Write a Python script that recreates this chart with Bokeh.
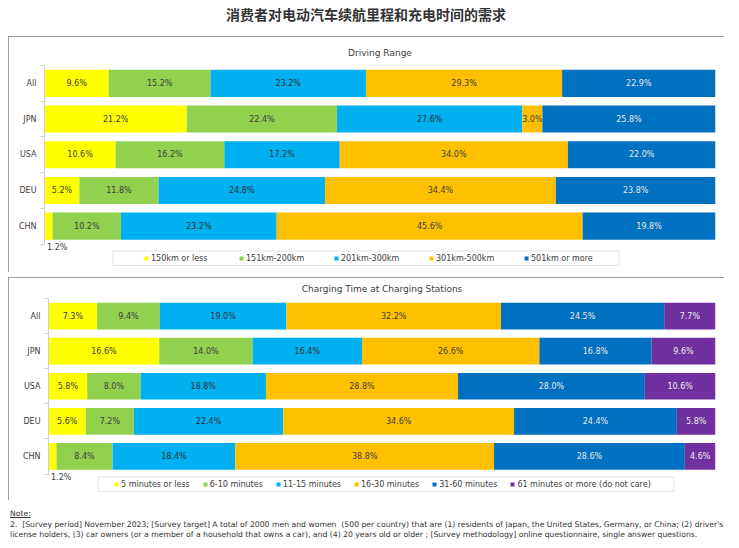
from bokeh.plotting import figure
from bokeh.models import (ColumnDataSource, FixedTicker, Legend, LegendItem,
                          BoxAnnotation, Label, Div, Spacer)
from bokeh.layouts import column
from bokeh.embed import file_html
from bokeh.resources import INLINE
from bokeh.core.properties import value

# ---------------- data ----------------
countries = ["All", "JPN", "USA", "DEU", "CHN"]

range_labels = ["150km or less", "151km-200km", "201km-300km", "301km-500km", "501km or more"]
range_all = [9.6, 15.2, 23.2, 29.3, 22.9]
range_jpn = [21.2, 22.4, 27.6, 3.0, 25.8]
range_usa = [10.6, 16.2, 17.2, 34.0, 22.0]
range_deu = [5.2, 11.8, 24.8, 34.4, 23.8]
range_chn = [1.2, 10.2, 23.2, 45.6, 19.8]

time_labels = ["5 minutes or less", "6-10 minutes", "11-15 minutes", "16-30 minutes",
               "31-60 minutes", "61 minutes or more (do not care)"]
time_all = [7.3, 9.4, 19.0, 32.2, 24.5, 7.7]
time_jpn = [16.6, 14.0, 16.4, 26.6, 16.8, 9.6]
time_usa = [5.8, 8.0, 18.8, 28.8, 28.0, 10.6]
time_deu = [5.6, 7.2, 22.4, 34.6, 24.4, 5.8]
time_chn = [1.2, 8.4, 18.4, 38.8, 28.6, 4.6]

main_title = "消费者对电动汽车续航里程和充电时间的需求"
note_head = "Note:"
note_line1 = ("2.  [Survey period] November 2023; [Survey target] A total of 2000 men and women  "
              "(500 per country) that are (1) residents of Japan, the United States, Germany, or China; (2) driver's")
note_line2 = ("license holders, (3) car owners (or a member of a household that owns a car), and (4) 20 years "
              "old or older ; [Survey methodology] online questionnaire, single answer questions.")

# ---------------- style ----------------
colors = ["#FFFF00", "#92D050", "#00B0F0", "#FFC000", "#0070C0", "#7030A0"]
text_colors = ["#404040", "#404040", "#333333", "#404040", "#e8e8e8", "#eeeeee"]
FONT = "DejaVu Sans"
NAN = float("nan")


def build_panel(title, rows, labels, height, bl, br, bt, bb, px_per_row, title_standoff,
                leg_vx, leg_vy, leg_spacing, leg_label_width, box):
    n = len(rows)
    frame_h = height - bt - bb
    y_start = n - frame_h / px_per_row
    p = figure(width=716, height=height, x_range=(0, 100), y_range=(y_start, n),
               x_axis_type=None, output_backend="svg", toolbar_location=None,
               min_border_left=bl, min_border_right=br, min_border_top=bt,
               min_border_bottom=bb)
    p.outline_line_color = None
    p.background_fill_color = "white"
    p.border_fill_color = "white"
    p.grid.visible = False
    p.styles = {"outline": "1px solid #7f7f7f", "outline-offset": "-1px"}

    p.title.text = title
    p.title.align = "center"
    p.title.text_font = FONT
    p.title.text_font_size = "9px"
    p.title.text_font_style = "normal"
    p.title.text_color = "#404040"
    p.title.standoff = title_standoff

    ys = [n - 0.5 - i for i in range(n)]
    totals = [sum(r) for r in rows]
    cum = [0.0] * n
    items = []
    below_labels = []
    for j, lab in enumerate(labels):
        vals = [r[j] for r in rows]
        lefts = list(cum)
        rights = [c + v / t * 100.0 for c, v, t in zip(cum, vals, totals)]
        src = ColumnDataSource(dict(y=ys, left=lefts, right=rights))
        p.hbar(y="y", left="left", right="right", height=0.76, fill_color=colors[j],
               line_color=None, source=src)
        tx, ty, tt = [], [], []
        for i in range(n):
            if vals[i] >= 2:
                tx.append((lefts[i] + rights[i]) / 2)
                ty.append(ys[i])
                tt.append("%.1f%%" % vals[i])
            else:
                below_labels.append((lefts[i], ys[i], "%.1f%%" % vals[i]))
        tsrc = ColumnDataSource(dict(x=tx, y=ty, t=tt))
        p.text(x="x", y="y", text="t", source=tsrc, text_align="center",
               text_baseline="middle", text_font=value(FONT), text_font_size="8px",
               text_color=text_colors[j])
        cum = rights
        # legend swatch only (no visible point)
        dummy = p.scatter(x=[NAN], y=[NAN], marker="square", fill_color=colors[j],
                          line_color=None)
        items.append(LegendItem(label=lab, renderers=[dummy]))

    for (lx, ly, lt) in below_labels:
        p.add_layout(Label(x=lx, y=ly - 0.5, text=lt, x_offset=2.5, y_offset=-3.5,
                           text_align="left", text_baseline="middle",
                           text_font=FONT, text_font_size="8px", text_color="#404040"))

    ax = p.yaxis[0]
    ax.bounds = (0, n)
    ax.ticker = FixedTicker(ticks=ys, minor_ticks=[float(k) for k in range(n + 1)])
    ax.major_label_overrides = {y: c for y, c in zip(ys, countries)}
    ax.major_tick_out = 0
    ax.major_tick_in = 0
    ax.minor_tick_out = 4
    ax.minor_tick_in = 0
    ax.minor_tick_line_color = "#d0d0d0"
    ax.axis_line_color = "#d0d0d0"
    ax.major_label_standoff = 4
    ax.axis_label_standoff = 0
    ax.major_label_text_font = FONT
    ax.major_label_text_font_size = "8px"
    ax.major_label_text_color = "#404040"

    legend = Legend(items=items, orientation="horizontal", location=(leg_vx, leg_vy),
                    border_line_color=None, background_fill_alpha=0, padding=0, margin=0,
                    glyph_width=10, glyph_height=10, label_height=10, label_standoff=0,
                    spacing=leg_spacing, label_width=leg_label_width,
                    label_text_font=FONT, label_text_font_size="8px",
                    label_text_color="#404040")
    p.add_layout(legend, "center")

    l, r, t, b = box
    p.add_layout(BoxAnnotation(left=l, right=r, top=t, bottom=b,
                               left_units="canvas", right_units="canvas",
                               top_units="canvas", bottom_units="canvas",
                               fill_alpha=0, line_color="#a6a6a6", line_width=1))
    return p


p1 = build_panel("Driving Range",
                 [range_all, range_jpn, range_usa, range_deu, range_chn], range_labels,
                 height=236, bl=36, br=9, bt=29, bb=4, px_per_row=35.7, title_standoff=15,
                 leg_vx=97, leg_vy=5, leg_spacing=0, leg_label_width=85,
                 box=(104.5, 610.5, 214.5, 229))

p2 = build_panel("Charging Time at Charging Stations",
                 [time_all, time_jpn, time_usa, time_deu, time_chn], time_labels,
                 height=223, bl=40, br=9, bt=20, bb=4, px_per_row=35.28, title_standoff=9,
                 leg_vx=63, leg_vy=7, leg_spacing=10, leg_label_width=0,
                 box=(89.5, 665.5, 199.5, 214))

title_div = Div(text=main_title, width=716, height=28, margin=0,
                styles={"text-align": "center", "font-family": "Noto Sans CJK SC",
                        "font-size": "14px", "font-weight": "bold", "color": "#333333",
                        "line-height": "12px", "overflow": "visible"})

note_div = Div(text=("<div style='padding-top:9px;line-height:10.5px;font-size:7.7px;"
                     "font-family:\"DejaVu Sans\";color:#333;white-space:pre;padding-left:2px'>"
                     "<u>%s</u><br>%s<br>%s</div>") % (note_head, note_line1, note_line2),
               width=716, height=38, margin=0, styles={"overflow": "visible"})

layout = column(title_div, column(p1, margin=0), Spacer(height=5, margin=0),
                column(p2, margin=0), note_div, spacing=0, margin=(8, 0, 0, 8))

open("out.html", "w").write(file_html(layout, INLINE))
